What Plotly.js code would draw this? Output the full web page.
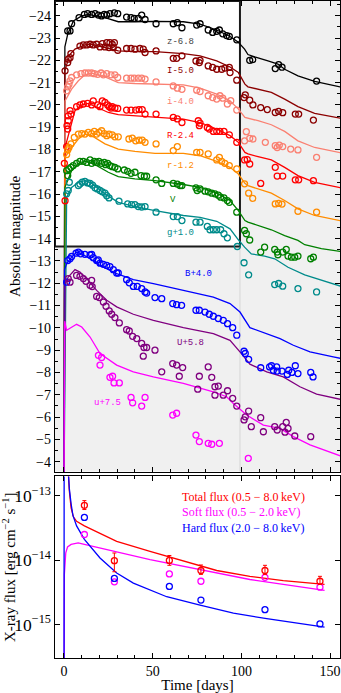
<!DOCTYPE html>
<html>
<head>
<meta charset="utf-8">
<script src="https://cdn.plot.ly/plotly-3.0.1.min.js"></script>
<style>
  html, body { margin: 0; padding: 0; background: white; }
  #plot { width: 341px; height: 693px; }
</style>
</head>
<body>
<div id="plot"></div>
<script>
// optical light curves, [day, magnitude] as plotted (offsets already in)
const zObs = [[2.1,-23.32],[3.4,-23.32],[4.3,-23.64],[8.5,-23.91],[11.5,-24.06],[13.3,-24.09],[15.6,-24.06],[17.5,-24.09],[19.4,-24.03],[21.2,-23.99],[22.7,-24.06],[24.1,-24.03],[25.9,-24.09],[28.4,-24.13],[30.3,-24.09],[35.3,-23.94],[37.8,-23.91],[39.6,-23.88],[41.9,-23.88],[43.8,-24.03],[45.7,-23.83],[51.9,-23.64],[61.6,-23.64],[63.9,-23.69],[66.5,-23.46],[74.8,-23.58],[76.7,-23.64],[81.3,-23.36],[83.8,-23.25],[86.1,-23.30],[87.6,-23.36],[89.5,-23.19],[91.7,-23.11],[93.2,-23.07],[97.4,-22.92],[104.7,-22.00],[106.4,-22.03],[119.1,-21.63],[121.0,-21.81],[122.9,-21.69],[142.4,-21.07]];
const zModel = [[0,-3],[0.5,-22.6],[2.1,-23.17],[5.3,-23.76],[10,-23.99],[13.7,-24.06],[23.1,-23.91],[30.6,-23.73],[40,-23.73],[51.3,-23.75],[67.3,-23.73],[76.7,-23.62],[86.1,-23.36],[93.6,-23.07],[98.3,-22.81],[101.8,-22.5],[103.7,-22.26],[107.5,-22.15],[115,-21.97],[120.6,-21.83],[124.4,-21.6],[131.9,-21.3],[141.3,-21.05],[156,-20.8]];

const IObs = [[0.6,-21.53],[2.1,-21.90],[2.4,-22.05],[3.4,-22.12],[3.9,-22.30],[9.0,-22.64],[10.9,-22.69],[12.8,-22.69],[14.7,-22.72],[16.5,-22.69],[18.4,-22.72],[20.3,-22.60],[21.6,-22.75],[23.1,-22.60],[24.1,-22.79],[25.4,-22.57],[25.9,-22.79],[27.2,-22.72],[27.8,-22.57],[28.4,-22.79],[30.3,-22.45],[35.3,-22.53],[37.8,-22.53],[40.0,-22.50],[42.8,-22.53],[44.7,-22.50],[45.7,-22.35],[51.9,-22.42],[61.6,-22.09],[63.5,-22.09],[66.5,-22.20],[74.4,-21.97],[76.3,-21.90],[76.7,-22.00],[81.3,-21.75],[83.8,-21.68],[86.1,-21.60],[88.9,-21.60],[90.7,-21.65],[93.2,-21.68],[93.6,-21.45],[97.4,-21.11],[101.5,-20.33],[102.2,-20.45],[104.7,-20.21],[106.5,-20.00],[110.9,-19.88],[114.6,-19.79],[119.1,-19.66],[121.0,-19.71],[123.3,-19.65],[130.4,-19.59],[132.3,-19.59],[140.6,-19.32]];
const IModel = [[0,-3],[0.5,-21.53],[1,-21.67],[3.4,-22.27],[6.2,-22.5],[11.8,-22.69],[15.6,-22.72],[23.1,-22.57],[30.6,-22.42],[40,-22.39],[51.3,-22.39],[67.3,-22.3],[76.7,-22.2],[86.1,-21.97],[93.6,-21.7],[98.3,-21.45],[102,-20.93],[103.7,-20.81],[109.4,-20.71],[116.9,-20.56],[124.4,-20.26],[131.9,-19.92],[141.3,-19.62],[156,-19.4]];

const iObs = [[1.5,-20.63],[2.1,-20.81],[2.8,-20.93],[3.4,-21.08],[4.3,-21.23],[7.1,-21.35],[9.6,-21.40],[11.8,-21.43],[13.7,-21.43],[15.6,-21.43],[17.1,-21.40],[19.0,-21.37],[20.9,-21.43],[22.2,-21.35],[24.1,-21.40],[26.5,-21.35],[28.7,-21.35],[30.3,-21.23],[35.3,-21.20],[37.8,-21.20],[39.6,-21.20],[41.9,-21.20],[43.8,-21.20],[45.7,-21.16],[51.9,-21.03],[61.6,-20.85],[63.9,-20.75],[66.5,-20.70],[74.8,-20.66],[76.7,-20.60],[81.3,-20.41],[83.8,-20.33],[86.1,-20.26],[87.9,-20.41],[89.5,-20.30],[92.1,-20.04],[94.0,-20.19],[97.4,-19.77],[101.8,-18.39],[102.8,-18.80],[104.7,-18.50],[106.5,-18.47],[113.5,-18.32],[119.1,-18.17],[120.2,-18.09],[121.4,-18.20],[123.3,-18.13],[127.8,-18.02],[131.9,-17.98],[142.4,-17.65]];
const iModel = [[0,-3],[0.6,-20.18],[4.3,-20.71],[8.1,-21.08],[11.8,-21.35],[15.6,-21.43],[23.1,-21.26],[30.6,-21.0],[40,-20.96],[51.3,-20.93],[67.3,-20.9],[76.7,-20.75],[86.1,-20.48],[93.6,-20.18],[98.3,-19.81],[102,-19.44],[103.7,-19.41],[109.4,-19.29],[116.9,-19.11],[124.4,-18.81],[131.9,-18.39],[141.3,-18.09],[156,-17.85]];

const RObs = [[0.6,-15.70],[0.2,-17.38],[1.5,-18.13],[2.1,-18.92],[1.7,-19.07],[2.4,-19.29],[2.4,-19.51],[3.9,-19.59],[3.4,-19.74],[7.1,-19.92],[9.0,-20.00],[10.9,-20.04],[13.3,-20.07],[15.6,-20.00],[16.5,-20.18],[19.0,-20.00],[20.3,-19.92],[21.6,-20.18],[23.1,-20.11],[24.6,-20.00],[25.5,-19.92],[26.5,-19.86],[27.2,-19.92],[28.7,-19.86],[30.3,-19.84],[35.3,-19.77],[37.8,-19.77],[40.4,-19.77],[42.3,-19.79],[44.1,-19.79],[45.7,-19.59],[51.9,-19.59],[61.6,-19.44],[63.9,-19.37],[66.5,-19.21],[75.7,-19.29],[76.7,-19.18],[76.3,-19.07],[80.8,-18.99],[81.9,-18.92],[84.2,-18.81],[86.1,-18.81],[87.9,-18.81],[90.2,-18.81],[93.2,-18.66],[97.4,-18.32],[101.8,-17.53],[103.3,-17.55],[104.7,-17.35],[110.9,-16.48],[119.1,-17.20],[120.2,-16.81],[123.3,-16.81],[130.4,-16.64],[132.3,-16.64],[140.6,-16.60]];
const RModel = [[0,-3],[0.6,-18.09],[6.2,-19.74],[10,-20.0],[13.7,-20.07],[19.4,-19.88],[25,-19.66],[30.6,-19.56],[40,-19.51],[51.3,-19.47],[67.3,-19.36],[76.7,-19.21],[86.1,-18.92],[93.6,-18.62],[98.3,-18.32],[102,-17.87],[103.7,-17.8],[109.4,-17.68],[116.9,-17.53],[124.4,-17.2],[131.9,-16.83],[141.3,-16.53],[156,-16.28]];

const rObs = [[1.5,-17.77],[2.1,-17.98],[2.8,-18.09],[3.9,-18.25],[5.8,-18.54],[8.1,-18.69],[10.0,-18.71],[11.8,-18.69],[13.7,-18.77],[15.6,-18.71],[17.1,-18.81],[18.4,-18.69],[19.7,-18.77],[21.2,-18.84],[22.7,-18.71],[24.1,-18.62],[25.4,-18.69],[27.2,-18.66],[28.7,-18.57],[30.6,-18.57],[36.6,-18.47],[38.5,-18.51],[40.4,-18.39],[42.3,-18.42],[44.1,-18.42],[45.7,-18.32],[51.9,-18.25],[61.6,-17.95],[63.9,-18.13],[74.8,-17.87],[76.7,-17.87],[81.3,-17.80],[86.1,-17.53],[87.6,-17.65],[88.9,-17.47],[90.7,-17.38],[93.2,-17.28],[97.4,-17.13],[101.8,-16.46],[104.1,-16.04],[106.4,-15.81],[119.1,-15.56],[121.0,-15.58],[122.9,-15.55],[131.9,-15.23],[142.4,-15.19]];
const rModel = [[0,-3],[0.6,-17.65],[4.3,-18.09],[8.1,-18.47],[11.8,-18.69],[15.6,-18.62],[23.1,-18.25],[30.6,-18.02],[40,-17.92],[51.3,-17.83],[67.3,-17.83],[76.7,-17.72],[86.1,-17.47],[93.6,-17.2],[98.3,-16.9],[102,-16.48],[103.7,-16.38],[109.4,-16.23],[116.9,-16.04],[124.4,-15.71],[131.9,-15.34],[141.3,-15.04],[156,-14.8]];

const VObs = [[1.5,-17.05],[2.1,-16.83],[2.8,-17.13],[3.9,-17.20],[5.2,-17.28],[7.1,-17.38],[9.0,-17.47],[10.9,-17.47],[12.8,-17.42],[14.7,-17.53],[15.6,-17.38],[17.1,-17.47],[18.4,-17.42],[19.7,-17.47],[21.2,-17.38],[22.7,-17.42],[23.5,-17.32],[24.6,-17.38],[25.9,-17.28],[27.2,-17.23],[28.7,-17.20],[30.3,-17.13],[34.0,-17.08],[35.9,-17.02],[37.8,-16.93],[40.0,-16.98],[43.4,-16.83],[45.3,-16.80],[46.6,-16.80],[51.9,-16.64],[55.1,-16.48],[61.6,-16.48],[63.9,-16.45],[65.4,-16.38],[66.5,-16.38],[74.4,-16.28],[75.1,-16.16],[76.7,-16.23],[79.5,-16.13],[81.3,-16.10],[83.3,-16.04],[85.1,-16.01],[87.0,-15.95],[88.3,-15.86],[90.2,-15.83],[92.1,-15.71],[93.2,-15.63],[97.4,-15.19],[101.8,-14.37],[102.8,-14.22],[104.7,-13.94],[110.9,-13.40],[113.1,-13.62],[118.8,-13.52],[120.2,-13.40],[120.6,-13.28],[123.3,-13.40],[125.3,-13.52],[126.3,-13.22],[128.2,-13.17],[130.1,-13.17],[131.9,-13.22],[139.1,-13.10],[140.6,-13.17]];
const VModel = [[0,-3],[0.5,-16.3],[4.3,-17.05],[9,-17.42],[12.8,-17.47],[17.5,-17.32],[25,-16.98],[30.6,-16.78],[40,-16.68],[51.3,-16.6],[67.3,-16.43],[76.7,-16.3],[86.1,-16.04],[93.6,-15.71],[98.3,-15.26],[102,-14.81],[103.7,-14.74],[109.4,-14.59],[116.9,-14.4],[124.4,-14.14],[131.9,-13.92],[135.7,-13.73],[145.1,-13.55],[156,-13.43]];

const gObs = [[1.5,-16.01],[2.4,-16.16],[3.0,-16.53],[8.1,-16.38],[9.0,-16.45],[10.3,-16.53],[11.8,-16.57],[13.3,-16.50],[14.7,-16.48],[16.1,-16.40],[17.5,-16.28],[18.8,-16.23],[20.3,-16.16],[21.6,-16.10],[23.1,-16.04],[24.1,-15.93],[25.4,-15.83],[31.0,-15.68],[35.9,-15.56],[38.1,-15.53],[40.0,-15.53],[41.9,-15.44],[43.8,-15.42],[45.7,-15.44],[51.9,-15.19],[61.6,-14.99],[63.9,-14.99],[66.5,-14.81],[74.4,-14.74],[76.7,-14.74],[80.8,-14.55],[82.3,-14.40],[84.2,-14.40],[86.1,-14.40],[88.3,-14.40],[90.2,-14.22],[92.1,-14.04],[97.7,-13.65],[101.5,-12.92],[104.1,-12.38],[118.8,-11.94],[121.0,-11.99],[123.3,-11.87],[131.9,-11.76],[142.4,-11.61]];
const gModel = [[0,-3],[1.5,-15.86],[4.3,-16.3],[8.1,-16.53],[11.8,-16.6],[15.6,-16.48],[23.1,-16.01],[30.6,-15.63],[40,-15.44],[51.3,-15.26],[67.3,-15.04],[76.7,-14.96],[86.1,-14.78],[93.6,-14.44],[98.3,-13.95],[101.8,-13.62],[105.6,-13.32],[113.1,-13.22],[118.8,-13.1],[126.3,-12.72],[135.7,-12.38],[145.1,-12.13],[156,-11.87]];

const BObs = [[1.5,-12.05],[2.1,-13.02],[3.4,-13.10],[4.3,-13.20],[6.8,-13.35],[8.1,-13.40],[9.4,-13.32],[11.8,-13.30],[14.7,-13.27],[15.6,-13.30],[16.5,-13.15],[18.4,-13.02],[19.3,-13.05],[20.3,-12.90],[22.2,-12.85],[24.1,-12.80],[25.9,-12.75],[27.8,-12.61],[29.7,-12.46],[30.6,-12.46],[35.3,-12.16],[36.8,-12.02],[39.1,-11.86],[41.3,-11.86],[43.8,-11.76],[45.7,-11.61],[46.6,-11.56],[51.3,-11.36],[55.1,-11.31],[61.3,-11.09],[63.5,-11.04],[66.3,-11.01],[74.4,-10.79],[76.3,-10.79],[79.5,-10.71],[81.9,-10.61],[84.2,-10.52],[87.0,-10.42],[89.8,-10.34],[92.2,-10.19],[95.1,-10.01],[97.4,-9.67],[101.5,-8.95],[102.2,-8.85],[104.1,-8.59],[110.9,-8.21],[115.9,-8.25],[117.0,-8.30],[118.0,-8.10],[119.9,-8.25],[120.2,-8.06],[122.9,-8.06],[125.9,-7.91],[126.7,-8.10],[128.5,-8.00],[130.4,-8.30],[131.9,-7.95],[139.1,-8.00],[140.4,-7.80]];
const BModel = [[0,-3],[0.3,-12.6],[1.5,-12.88],[4.3,-13.17],[7.1,-13.4],[10,-13.32],[14.7,-13.1],[20.3,-12.8],[29.7,-12.43],[39.1,-12.16],[50.4,-11.98],[67.3,-11.68],[84.2,-11.38],[93.6,-11.09],[99.2,-10.71],[104.8,-10.01],[114.3,-9.74],[121.8,-9.52],[129.3,-9.22],[138.7,-8.92],[151.8,-8.7],[156,-8.63]];

const UObs = [[2.4,-12.21],[3.4,-12.05],[7.1,-12.35],[9.0,-12.31],[10.9,-12.21],[12.4,-12.09],[14.7,-11.91],[15.6,-12.13],[15.9,-11.85],[18.4,-11.41],[19.9,-11.36],[22.2,-11.16],[23.7,-10.97],[25.5,-10.76],[26.9,-10.61],[28.7,-10.46],[31.2,-10.22],[35.3,-9.92],[36.8,-9.86],[38.7,-9.62],[41.0,-9.52],[43.8,-9.30],[45.1,-9.12],[46.6,-9.12],[44.7,-8.73],[51.3,-9.00],[55.1,-8.03],[61.3,-8.40],[63.5,-8.33],[65.0,-7.83],[66.9,-8.22],[75.4,-7.25],[76.3,-7.83],[81.3,-8.25],[83.3,-7.78],[85.1,-7.36],[87.0,-7.39],[85.1,-6.98],[89.8,-6.98],[92.2,-7.18],[95.1,-6.84],[97.4,-6.49],[101.5,-5.87],[102.2,-6.01],[104.1,-6.27],[105.6,-5.57],[110.9,-5.97],[112.4,-5.34],[118.8,-5.57],[120.2,-5.42],[123.3,-5.57],[124.6,-5.32],[125.3,-5.76],[126.3,-5.49],[130.1,-5.15],[139.1,-5.12]];
const UModel = [[0,-3],[0.6,-11.98],[2.4,-12.28],[6.2,-12.61],[9,-12.5],[12.8,-12.21],[18.4,-11.68],[24.1,-11.24],[29.7,-10.94],[39.1,-10.61],[50.4,-10.34],[67.3,-10.01],[84.2,-9.74],[93.6,-9.44],[99.2,-8.92],[104.8,-8.37],[114.3,-8.03],[123.6,-7.8],[133,-7.36],[142.4,-7.03],[156,-6.79]];

const uObs = [[19.4,-8.77],[21.2,-8.67],[20.3,-8.33],[25.9,-7.78],[27.4,-7.83],[28.2,-7.53],[31.2,-7.53],[37.8,-6.88],[38.7,-6.64],[43.8,-6.49],[45.7,-6.88],[61.3,-6.09],[63.5,-6.17],[74.4,-5.19],[76.3,-4.90],[81.3,-4.82],[83.3,-4.78],[87.6,-4.82],[103.9,-4.15]];
const uModel = [[0,-3],[0.4,-10.3],[1.5,-9.89],[7.1,-10.16],[10,-10.04],[14.7,-9.59],[20.3,-8.85],[29.7,-8.33],[39.1,-8.03],[50.4,-7.8],[67.3,-7.51],[84.2,-7.13],[91.7,-6.91],[95.5,-6.61],[103,-6.09],[112.4,-5.64],[121.8,-5.49],[129.3,-5.12],[138.7,-4.75],[156,-4.25]];

// x-ray fluxes (erg cm^-2 s^-1)
const xrayDays = [11.5, 28.4, 59.4, 77.2, 113.3, 144.3];
const totalFlux = [7.1e-14, 9.8e-15, 9.9e-15, 6.9e-15, 6.9e-15, 4.7e-15];
const totalErrUp = [1.3e-14, 3.1e-15, 1.9e-15, 1.5e-15, 1.4e-15, 0.9e-15];
const totalErrDown = [1.0e-14, 3.2e-15, 1.6e-15, 0.9e-15, 0.9e-15, 0.5e-15];
const softFlux = [2.5e-14, 4.6e-15, 6.1e-15, 4.7e-15, 5.4e-15, 3.8e-15];
const hardFlux = [4.6e-14, 5.2e-15, 3.9e-15, 2.4e-15, 1.7e-15, 1.02e-15];

const totalModel = [[2.2,3e-13],[3,1.2e-13],[4,6.5e-14],[5.3,4.7e-14],[7.1,4.0e-14],[11.5,3.4e-14],[20.3,2.6e-14],[29.7,1.95e-14],[48.5,1.37e-14],[67.3,9.6e-15],[86.1,6.9e-15],[104.8,5.6e-15],[123.6,4.8e-15],[146.9,4.2e-15]];
const softModel = [[0,1e-17],[0.2,6e-15],[1,1.3e-14],[2,1.6e-14],[4,1.75e-14],[8,1.85e-14],[11.5,1.75e-14],[20.3,1.55e-14],[29.7,1.34e-14],[48.5,1.02e-14],[67.3,8.0e-15],[86.1,6.3e-15],[104.8,5.0e-15],[123.6,4.2e-15],[146.9,3.4e-15]];
const hardModel = [[0,1e-17],[0.1,1e-12],[2.2,3e-13],[3,1.3e-13],[4,7.5e-14],[5,5e-14],[7.1,3.4e-14],[11.5,2.1e-14],[20.3,1.08e-14],[29.7,6.3e-15],[39.1,4.4e-15],[57.9,2.7e-15],[76.7,2.0e-15],[95.5,1.5e-15],[114.3,1.23e-15],[146.9,9.1e-16]];

const bands = [
    {obs: zObs, model: zModel, color: '#000000', label: 'z-6.8', lx: 57, ly: -22.84, tc: '#444444'},
    {obs: IObs, model: IModel, color: '#8b0000', label: 'I-5.0', lx: 57, ly: -21.53},
    {obs: iObs, model: iModel, color: '#fa8072', label: 'i-4.0', lx: 57, ly: -20.14},
    {obs: RObs, model: RModel, color: '#ff0000', label: 'R-2.4', lx: 57, ly: -18.62},
    {obs: rObs, model: rModel, color: '#ff8c00', label: 'r-1.2', lx: 57, ly: -17.24},
    {obs: VObs, model: VModel, color: '#008000', label: 'V', lx: 58.8, ly: -15.75},
    {obs: gObs, model: gModel, color: '#008b8b', label: 'g+1.0', lx: 57, ly: -14.25},
    {obs: BObs, model: BModel, color: '#0000ff', label: 'B+4.0', lx: 67.3, ly: -12.43},
    {obs: UObs, model: UModel, color: '#800080', label: 'U+5.8', lx: 62.6, ly: -9.32},
    {obs: uObs, model: uModel, color: '#ff00ff', label: 'u+7.5', lx: 15.6, ly: -6.61}
];

const xMin = -5.07, xMax = 155.6;
const magBottom = -3.55, magTop = -24.66;
const boxRight = 99.2, boxBottom = -13.65;
const serif = 'Liberation Serif, Times New Roman, serif';

const data = [];
bands.forEach(b => {
    data.push({
        x: b.model.map(p => p[0]), y: b.model.map(p => p[1]),
        xaxis: 'x', yaxis: 'y', mode: 'lines', type: 'scatter',
        line: {color: b.color, width: 1.3}, showlegend: false, hoverinfo: 'skip'
    });
});
bands.forEach(b => {
    data.push({
        x: b.obs.map(p => p[0]), y: b.obs.map(p => p[1]),
        xaxis: 'x', yaxis: 'y', mode: 'markers', type: 'scatter',
        marker: {symbol: 'circle-open', size: 6, color: b.color, line: {width: 1.3}},
        showlegend: false
    });
});

// x-ray panel
const xrayModels = [[totalModel, '#ff0000'], [softModel, '#ff00ff'], [hardModel, '#0000ff']];
xrayModels.forEach(m => {
    data.push({
        x: m[0].map(p => p[0]), y: m[0].map(p => p[1]),
        xaxis: 'x2', yaxis: 'y2', mode: 'lines', type: 'scatter',
        line: {color: m[1], width: 1.3}, showlegend: false
    });
});
data.push({
    x: xrayDays, y: softFlux, xaxis: 'x2', yaxis: 'y2', mode: 'markers', type: 'scatter',
    marker: {symbol: 'circle-open', size: 6, color: '#ff00ff', line: {width: 1.3}}, showlegend: false
});
data.push({
    x: xrayDays, y: hardFlux, xaxis: 'x2', yaxis: 'y2', mode: 'markers', type: 'scatter',
    marker: {symbol: 'circle-open', size: 6, color: '#0000ff', line: {width: 1.3}}, showlegend: false
});
data.push({
    x: xrayDays, y: totalFlux, xaxis: 'x2', yaxis: 'y2', mode: 'markers', type: 'scatter',
    error_y: {type: 'data', symmetric: false, array: totalErrUp, arrayminus: totalErrDown,
              color: '#ff0000', thickness: 1, width: 2},
    marker: {symbol: 'circle-open', size: 6, color: '#ff0000', line: {width: 1.3}}, showlegend: false
});

const axisCommon = {
    ticks: 'inside', ticklen: 5, tickwidth: 1, tickcolor: 'black',
    showline: true, linecolor: 'black', linewidth: 1.2, mirror: 'allticks',
    showgrid: false, zeroline: false,
    tickfont: {family: serif, size: 14, color: 'black'}
};

const annotations = bands.map(b => ({
    x: b.lx, y: b.ly, xref: 'x', yref: 'y', text: b.label, showarrow: false,
    xanchor: 'left', yanchor: 'middle',
    font: {family: 'Liberation Mono, DejaVu Sans Mono, monospace', size: 9, color: b.tc || b.color}
}));
const legendText = [
    ['Total flux (0.5 \u2212 8.0\u2009keV)', '#ff0000', -13.02],
    ['Soft flux (0.5 \u2212 2.0\u2009keV)', '#ff00ff', -13.25],
    ['Hard flux (2.0 \u2212 8.0\u2009keV)', '#0000ff', -13.50]
];
legendText.forEach(t => {
    annotations.push({
        x: 65.4, y: t[2], xref: 'x2', yref: 'y2', text: t[0], showarrow: false,
        xanchor: 'left', yanchor: 'middle', font: {family: serif, size: 12, color: t[1]}
    });
});

const layout = {
    width: 341, height: 693,
    margin: {l: 55, r: 1, t: 1, b: 35},
    paper_bgcolor: 'white', plot_bgcolor: 'white',
    font: {family: serif, size: 14, color: 'black'},
    xaxis: Object.assign({}, axisCommon, {
        domain: [0, 1], anchor: 'y', range: [xMin, xMax], showticklabels: false,
        tick0: 0, dtick: 50, minor: {dtick: 10, ticklen: 3, ticks: 'inside', tickcolor: 'black'}
    }),
    yaxis: Object.assign({}, axisCommon, {
        domain: [0.2836, 1], anchor: 'x', range: [magBottom, magTop], dtick: 1,
        minor: {dtick: 0.5, ticklen: 3, ticks: 'inside', tickcolor: 'black'},
        title: {text: 'Absolute magnitude', font: {family: serif, size: 15}, standoff: 4}
    }),
    xaxis2: Object.assign({}, axisCommon, {
        domain: [0, 1], anchor: 'y2', range: [xMin, xMax],
        tick0: 0, dtick: 50, minor: {dtick: 10, ticklen: 3, ticks: 'inside', tickcolor: 'black'},
        title: {text: 'Time [days]', font: {family: serif, size: 15}, standoff: 2}
    }),
    yaxis2: Object.assign({}, axisCommon, {
        domain: [0, 0.2764], anchor: 'x2', type: 'log', range: [-15.52, -12.70], dtick: 1,
        exponentformat: 'power',
        title: {text: 'X-ray flux [erg cm<sup>\u22122</sup> s<sup>\u22121</sup>]', font: {family: serif, size: 15}, standoff: 4}
    }),
    shapes: [
        {type: 'rect', xref: 'x', yref: 'y', x0: xMin, x1: xMax, y0: magBottom, y1: magTop,
         fillcolor: '#f0f0f0', line: {width: 0}, layer: 'below'},
        {type: 'rect', xref: 'x', yref: 'y', x0: xMin, x1: boxRight, y0: boxBottom, y1: magTop,
         fillcolor: 'white', line: {width: 0}, layer: 'below'},
        {type: 'line', xref: 'x', yref: 'y', x0: boxRight, x1: boxRight, y0: magBottom, y1: boxBottom,
         line: {color: '#d6d6d6', width: 1}, layer: 'below'},
        {type: 'rect', xref: 'x', yref: 'y', x0: xMin, x1: boxRight, y0: boxBottom, y1: magTop,
         fillcolor: 'rgba(0,0,0,0)', line: {color: '#1a1a1a', width: 2}, layer: 'below'}
    ],
    annotations: annotations
};

Plotly.newPlot('plot', data, layout, {displayModeBar: false, staticPlot: true});
</script>
</body>
</html>
